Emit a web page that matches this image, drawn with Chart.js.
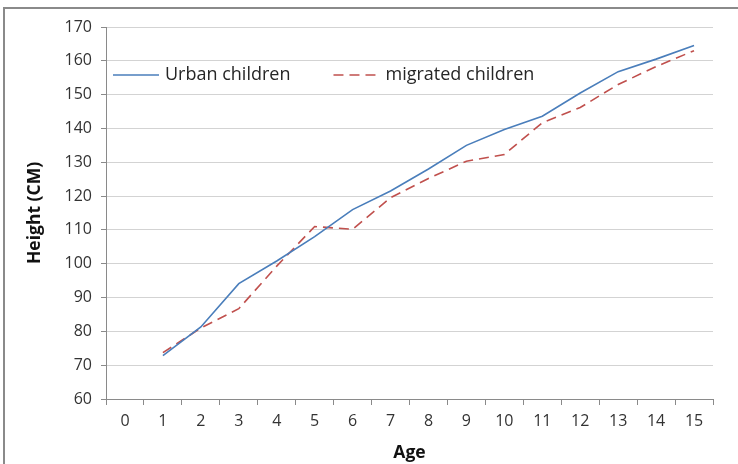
<!DOCTYPE html>
<html>
<head>
<meta charset="utf-8">
<script src="https://cdn.jsdelivr.net/npm/chart.js@4/dist/chart.umd.min.js"></script>
<style>
    html, body { margin: 0; padding: 0; background: #fff; }
    #wrap { position: relative; width: 738px; height: 464px; }
    #frame {
        position: absolute; left: 3px; top: 7px; right: 0; bottom: 0;
        border-left: 2px solid #8a8a8a; border-top: 2px solid #8a8a8a;
        pointer-events: none;
    }
</style>
</head>
<body>
<div id="wrap">
    <canvas id="chart" width="738" height="464"></canvas>
    <div id="frame"></div>
</div>
<script>
// ==========================================
// Datos
// ==========================================
const ages = ['0', '1', '2', '3', '4', '5', '6', '7', '8', '9', '10', '11', '12', '13', '14', '15'];
const urbanHeights = [null, 72.8, 81.3, 94.1, 100.8, 108, 116, 121.5, 128, 135, 139.7, 143.6, 150.5, 156.8, 160.5, 164.5];
const migratedHeights = [null, 73.7, 81, 86.7, 99.3, 111, 110.2, 119.5, 125.2, 130.3, 132.3, 141.7, 146.2, 153, 158.3, 163];
const yMin = 60;
const yMax = 170;
const yStep = 10;

const FONT = "'Open Sans', 'Liberation Sans', sans-serif";

// ==========================================
// Leyenda dentro del área del gráfico (una sola fila)
// ==========================================
const insideLegend = {
    id: 'insideLegend',
    afterDraw(chart) {
        const ctx = chart.ctx;
        const area = chart.chartArea;
        const y = area.top + 48;
        let x = area.left + 7;
        ctx.save();
        ctx.font = '18px ' + FONT;
        ctx.textBaseline = 'middle';
        chart.data.datasets.forEach(ds => {
            ctx.strokeStyle = ds.borderColor;
            ctx.lineWidth = ds.borderWidth;
            ctx.setLineDash(ds.borderDash || []);
            ctx.beginPath();
            ctx.moveTo(x, y);
            ctx.lineTo(x + 46, y);
            ctx.stroke();
            ctx.setLineDash([]);
            ctx.fillStyle = '#262626';
            ctx.fillText(ds.label, x + 52, y);
            x += 52 + ctx.measureText(ds.label).width + 43;
        });
        ctx.restore();
    }
};

new Chart(document.getElementById('chart'), {
    type: 'line',
    data: {
        labels: ages,
        datasets: [
            {
                label: 'Urban children',
                data: urbanHeights,
                borderColor: '#4a7ebb',
                backgroundColor: '#4a7ebb',
                borderWidth: 1.6,
                pointRadius: 0,
                tension: 0
            },
            {
                label: 'migrated children',
                data: migratedHeights,
                borderColor: '#c0504d',
                backgroundColor: '#c0504d',
                borderWidth: 1.6,
                borderDash: [10, 6],
                pointRadius: 0,
                tension: 0
            }
        ]
    },
    options: {
        responsive: false,
        animation: false,
        layout: { padding: { left: 25, right: 25, top: 27, bottom: 0 } },
        plugins: {
            legend: { display: false },
            tooltip: { enabled: false }
        },
        scales: {
            x: {
                offset: true,
                afterFit: (scale) => { scale.height = 65; },
                grid: { display: true, drawOnChartArea: false, offset: true, tickLength: 6, color: '#8a8a8a' },
                border: { color: '#8a8a8a' },
                ticks: { color: '#333', font: { family: FONT, size: 16 }, padding: 7, maxRotation: 0 },
                title: { display: true, text: 'Age', color: '#111', font: { family: FONT, size: 17.5, weight: 'bold' }, padding: { top: 0, bottom: 0 } }
            },
            y: {
                min: yMin,
                max: yMax,
                afterFit: (scale) => { scale.width = 81; },
                grid: { color: '#d3d3d3', tickLength: 5, tickColor: '#8a8a8a' },
                border: { color: '#8a8a8a' },
                ticks: { stepSize: yStep, color: '#333', font: { family: FONT, size: 16 }, padding: 9 },
                title: { display: true, text: 'Height (CM)', color: '#111', font: { family: FONT, size: 17.5, weight: 'bold' }, padding: { top: 0, bottom: 0 } }
            }
        }
    },
    plugins: [insideLegend]
});
</script>
</body>
</html>
